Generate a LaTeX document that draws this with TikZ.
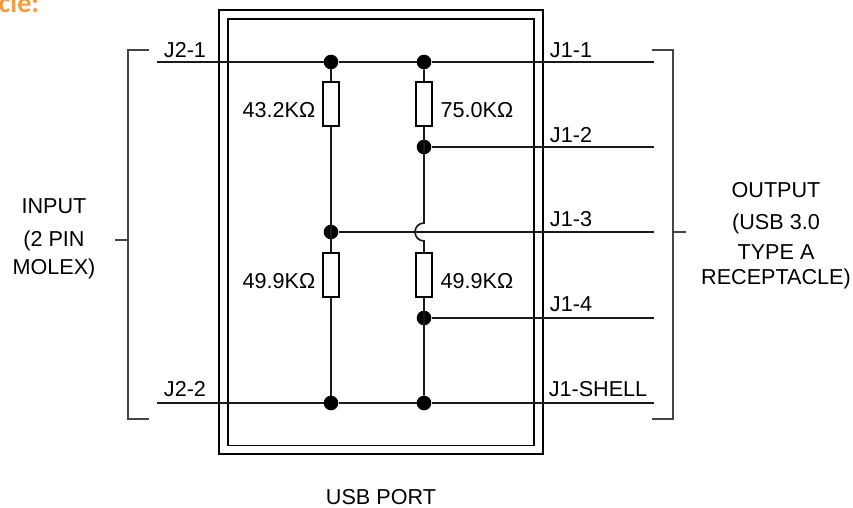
\documentclass[tikz,border=0pt]{standalone}
\usepackage{fontspec}
\setmainfont{Liberation Sans}
\newfontfamily\headfont{Carlito}
\definecolor{headorange}{HTML}{F79A3A}
\definecolor{wirecol}{HTML}{1A1A1A}
\definecolor{brackcol}{HTML}{444444}
\tikzset{
  wire/.style={draw=wirecol,line width=1.7pt},
  box/.style={draw=black,line width=1.5pt},
  brack/.style={draw=brackcol,line width=1.3pt},
  res/.style={draw=black,line width=1.5pt,fill=white,rectangle,minimum width=16pt,minimum height=44pt,inner sep=0pt},
  dot/.style={circle,fill=black,minimum size=14.6pt,inner sep=0pt},
  lab/.style={font=\fontsize{21.6}{26}\selectfont,inner sep=0pt,anchor=center,text=black},
}
\begin{document}
\begin{tikzpicture}[x=1pt,y=-1pt]
\useasboundingbox (0,0) rectangle (853,508);
\begin{scope}
\clip (0,0) rectangle (853,508);
\node[font=\headfont\bfseries\fontsize{28}{32}\selectfont,text=headorange,anchor=base west,inner sep=0pt] (head) at (-1.5,13) {cle:};
\end{scope}
% port frame
\node[box,minimum width=324pt,minimum height=444pt,inner sep=0pt] (outer) at (381,232) {};
\node[box,minimum width=306pt,minimum height=426.5pt,inner sep=0pt] (inner) at (381,232.3) {};
% coordinates
\coordinate (w1l) at (157,62);
\coordinate (w1r) at (654,62);
\coordinate (w2l) at (157,403);
\coordinate (w2r) at (654,403);
\coordinate (j2r) at (654,147);
\coordinate (j3r) at (654,232);
\coordinate (j4r) at (654,318);
\coordinate (hopT) at (424,223);
% dots
\node[dot] (a1) at (331,62) {};
\node[dot] (b1) at (424,62) {};
\node[dot] (b2) at (424,147) {};
\node[dot] (a3) at (331,232) {};
\node[dot] (b4) at (424,318) {};
\node[dot] (a5) at (331,403) {};
\node[dot] (b5) at (424,403) {};
% wires
\draw[wire] (w1l) -- (a1) -- (b1) -- (w1r);
\draw[wire] (w2l) -- (a5) -- (b5) -- (w2r);
\draw[wire] (b2) -- (j2r);
\draw[wire] (a3) -- (j3r);
\draw[wire] (b4) -- (j4r);
\draw[wire] (a1) -- (a5);
\draw[wire] (b1) -- (hopT) arc[start angle=90,end angle=270,radius=9pt] -- (b5);
% resistors
\node[res] (r1) at (331,104) {};
\node[res] (r2) at (424,104) {};
\node[res] (r3) at (331,275) {};
\node[res] (r4) at (424,275) {};
% brackets
\draw[brack] (149,50) -- (128,50) -- (128,419) -- (149,419);
\draw[brack] (652,50) -- (673,50) -- (673,419) -- (652,419);
\draw[brack] (115,240) -- (128,240);
\draw[brack] (673,232) -- (686,232);
% labels
\node[lab] (t1) at (185,50) {J2-1};
\node[lab] (t2) at (185,389) {J2-2};
\node[lab] (t3) at (571,50) {J1-1};
\node[lab] (t4) at (571,135) {J1-2};
\node[lab] (t5) at (571,219) {J1-3};
\node[lab] (t6) at (571,304) {J1-4};
\node[lab] (t7) at (598,389) {J1-SHELL};
\node[lab] (t8) at (279,110) {43.2KΩ};
\node[lab] (t9) at (477,110) {75.0KΩ};
\node[lab] (t10) at (279,281) {49.9KΩ};
\node[lab] (t11) at (477,281) {49.9KΩ};
\node[lab] (t12) at (54,206) {INPUT};
\node[lab] (t13) at (54,241) {(2 PIN};
\node[lab] (t14) at (54,269) {MOLEX)};
\node[lab] (t15) at (776,190) {OUTPUT};
\node[lab] (t16) at (776,224) {(USB 3.0};
\node[lab] (t17) at (776,252) {TYPE A};
\node[lab] (t18) at (776,279) {RECEPTACLE)};
\node[lab] (t19) at (381,497) {USB PORT};
\end{tikzpicture}
\end{document}
